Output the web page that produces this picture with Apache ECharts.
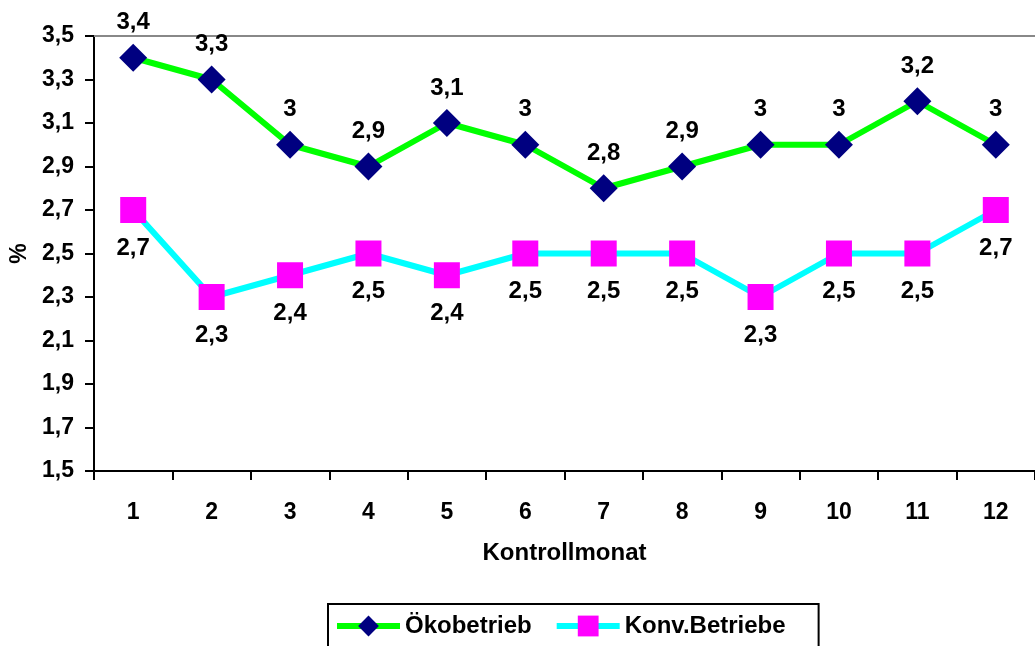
<!DOCTYPE html>
<html>
<head>
<meta charset="utf-8">
<script src="https://cdn.jsdelivr.net/npm/echarts@6/dist/echarts.min.js"></script>
<style>
html,body{margin:0;padding:0;background:#fff;}
#chart{width:1035px;height:646px;}
</style>
</head>
<body>
<div id="chart"></div>
<script>
const categories = ['1','2','3','4','5','6','7','8','9','10','11','12'];
const oekoValues = [3.4,3.3,3.0,2.9,3.1,3.0,2.8,2.9,3.0,3.0,3.2,3.0];
const konvValues = [2.7,2.3,2.4,2.5,2.4,2.5,2.5,2.5,2.3,2.5,2.5,2.7];
const seriesNames = ['Ökobetrieb','Konv.Betriebe'];
const yMin = 1.5, yMax = 3.5, yStep = 0.2;

const FONT = '"Liberation Sans", Arial, sans-serif';
const fmt = v => String(Math.round(v*10)/10).replace('.', ',');
const txt = (size) => ({fontFamily: FONT, fontWeight: 'bold', fontSize: size, color: '#000'});

const chart = echarts.init(document.getElementById('chart'), null, {renderer:'canvas'});
chart.setOption({
  animation: false,
  backgroundColor: '#fff',
  grid: {left: 92, right: -5, top: 36, bottom: 175, containLabel: false},
  legend: {
    data: seriesNames,
    left: 328, top: 604,
    orient: 'horizontal',
    borderColor: '#000', borderWidth: 2,
    padding: [10, 33, 18, 6],
    itemWidth: 63, itemHeight: 26, itemGap: 22,
    lineStyle: {width: 6},
    textStyle: txt(24)
  },
  xAxis: [{
    type: 'category',
    data: categories,
    boundaryGap: true,
    name: 'Kontrollmonat',
    nameLocation: 'middle',
    nameGap: 70,
    nameTextStyle: txt(24),
    axisLine: {show: true, lineStyle: {color: '#000', width: 2}},
    axisTick: {show: true, inside: false, length: 9, alignWithLabel: false, lineStyle: {color: '#000', width: 2}},
    axisLabel: Object.assign({margin: 30}, txt(23)),
    splitLine: {show: false}
  }, {
    type: 'category',
    data: categories,
    position: 'top',
    axisLine: {show: true, lineStyle: {color: '#888', width: 2}},
    axisTick: {show: false},
    axisLabel: {show: false},
    splitLine: {show: false}
  }],
  yAxis: {
    type: 'value',
    min: yMin, max: yMax, interval: yStep,
    name: '%',
    nameLocation: 'middle',
    nameGap: 63,
    nameRotate: 90,
    nameTextStyle: txt(23),
    axisLine: {show: true, lineStyle: {color: '#000', width: 2}},
    axisTick: {show: true, inside: false, length: 9, lineStyle: {color: '#000', width: 2}},
    axisLabel: Object.assign({margin: 20, formatter: v => fmt(v)}, txt(23)),
    splitLine: {show: false}
  },
  series: [{
    name: seriesNames[0],
    type: 'line',
    data: oekoValues,
    symbol: 'diamond',
    symbolSize: 28,
    lineStyle: {color: '#00ff00', width: 6},
    itemStyle: {color: '#000080'},
    label: Object.assign({show: true, position: 'top', distance: 9, formatter: p => fmt(p.value)}, txt(24)),
    z: 3
  }, {
    name: seriesNames[1],
    type: 'line',
    data: konvValues,
    symbol: 'rect',
    symbolSize: 26,
    lineStyle: {color: '#00ffff', width: 6},
    itemStyle: {color: '#ff00ff'},
    label: Object.assign({show: true, position: 'bottom', distance: 13, formatter: p => fmt(p.value)}, txt(24)),
    z: 2
  }]
});
</script>
</body>
</html>
